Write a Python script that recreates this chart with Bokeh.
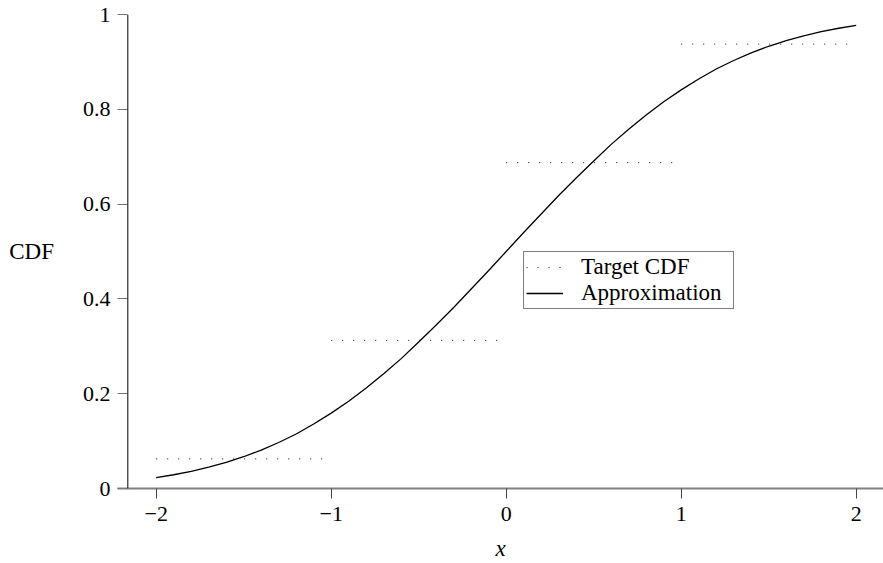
from bokeh.plotting import figure
from bokeh.models import Range1d, FixedTicker, CustomJSTickFormatter, Span, Legend, LegendItem
from bokeh.embed import file_html
from bokeh.resources import INLINE

# ---- data ----
curve_x = [-2.0, -1.9, -1.8, -1.7, -1.6, -1.5, -1.4, -1.3, -1.2, -1.1,
           -1.0, -0.9, -0.8, -0.7, -0.6, -0.5, -0.4, -0.3, -0.2, -0.1,
           0.0, 0.1, 0.2, 0.3, 0.4, 0.5, 0.6, 0.7, 0.8, 0.9,
           1.0, 1.1, 1.2, 1.3, 1.4, 1.5, 1.6, 1.7, 1.8, 1.9, 2.0]
curve_y = [0.023, 0.029, 0.036, 0.045, 0.055, 0.067, 0.081, 0.097, 0.115, 0.136,
           0.159, 0.184, 0.212, 0.242, 0.274, 0.309, 0.345, 0.382, 0.421, 0.460,
           0.500, 0.540, 0.579, 0.618, 0.655, 0.691, 0.726, 0.758, 0.788, 0.816,
           0.841, 0.864, 0.885, 0.903, 0.919, 0.933, 0.945, 0.955, 0.964, 0.971, 0.977]

step_x0 = [-2, -1, 0, 1]
step_x1 = [-1, 0, 1, 2]
step_y = [0.0625, 0.3125, 0.6875, 0.9375]

x_ticks = [-2, -1, 0, 1, 2]
x_tick_labels = ["\u22122", "\u22121", "0", "1", "2"]
y_ticks = [0, 0.2, 0.4, 0.6, 0.8, 1]
y_tick_labels = ["0", "0.2", "0.4", "0.6", "0.8", "1"]

FONT = "Liberation Serif"
FS = "22px"
FS_L = "23px"

p = figure(width=883, height=563, output_backend="svg", toolbar_location=None,
           x_range=Range1d(-2.221, 2.156), y_range=Range1d(0, 1.0))
p.min_border_left = 117
p.min_border_right = 0
p.min_border_top = 14
p.min_border_bottom = 75
p.outline_line_color = None
p.grid.visible = False
p.background_fill_color = "white"
p.border_fill_color = "white"

# steps (target CDF)
step_r = p.segment(x0=step_x0, y0=step_y, x1=step_x1, y1=step_y,
                   line_color="#111111", line_width=1, line_dash="1 10")
# approximation curve
curve_r = p.line(curve_x, curve_y, line_color="black", line_width=1.3)

# x axis
xa = p.xaxis[0]
xa.ticker = FixedTicker(ticks=x_ticks)
xa.formatter = CustomJSTickFormatter(args=dict(t=x_ticks, l=x_tick_labels),
                                     code="const i = t.indexOf(tick); return i >= 0 ? l[i] : String(tick);")
xa.axis_line_color = "#808080"
xa.axis_line_width = 2
xa.major_tick_out = 10
xa.major_tick_in = 0
xa.major_tick_line_color = "#444444"
xa.minor_tick_line_color = None
xa.major_label_text_font = FONT
xa.major_label_text_font_size = FS
xa.major_label_text_color = "black"
xa.major_label_standoff = 8
xa.axis_label = "x"
xa.axis_label_text_font = FONT
xa.axis_label_text_font_style = "italic"
xa.axis_label_text_font_size = FS_L
xa.axis_label_text_color = "black"
xa.axis_label_standoff = 12

# y axis
ya = p.yaxis[0]
ya.ticker = FixedTicker(ticks=y_ticks)
ya.formatter = CustomJSTickFormatter(args=dict(t=y_ticks, l=y_tick_labels),
                                     code="let i = -1; for (let k = 0; k < t.length; k++) { if (Math.abs(t[k] - tick) < 1e-9) i = k; } return i >= 0 ? l[i] : String(tick);")
ya.axis_line_color = None
ya.major_tick_in = 10
ya.major_tick_out = 0
ya.major_tick_line_color = "#777777"
ya.minor_tick_line_color = None
ya.major_label_text_font = FONT
ya.major_label_text_font_size = FS
ya.major_label_text_color = "black"
ya.major_label_standoff = 7
ya.axis_label = "CDF"
ya.axis_label_text_font = FONT
ya.axis_label_text_font_style = "normal"
ya.axis_label_text_font_size = FS_L
ya.axis_label_text_color = "black"
ya.axis_label_orientation = "horizontal"
ya.axis_label_standoff = 26

# y axis line drawn as span
p.add_layout(Span(location=-2.162, dimension="height", line_color="black", line_width=1))

legend = Legend(items=[LegendItem(label="Target CDF", renderers=[step_r]),
                       LegendItem(label="Approximation", renderers=[curve_r])],
                location=(406, 179))
legend.label_text_font = FONT
legend.label_text_font_size = FS_L
legend.label_text_color = "black"
legend.label_height = 22
legend.glyph_height = 22
legend.glyph_width = 37
legend.label_standoff = 18
legend.label_width = 150
legend.padding = 2
legend.spacing = 0
legend.margin = 0
legend.border_line_color = "black"
legend.border_line_width = 1
legend.background_fill_color = "white"
legend.background_fill_alpha = 1
p.add_layout(legend, "center")

open("out.html", "w").write(file_html(p, INLINE))
